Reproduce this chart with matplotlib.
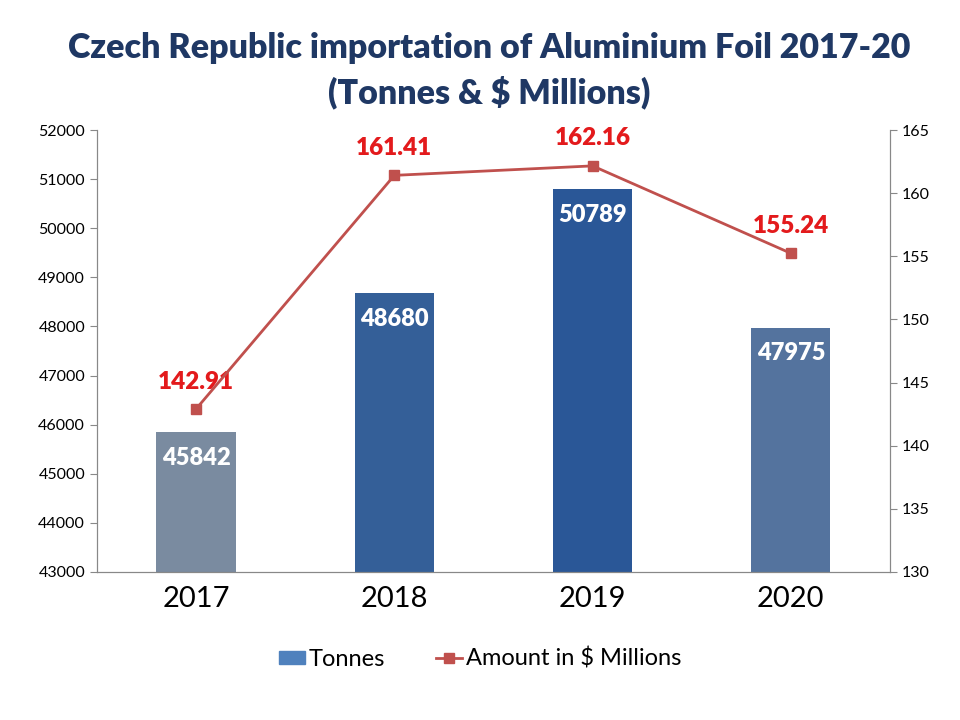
import matplotlib
matplotlib.use("Agg")
import matplotlib.pyplot as plt
from matplotlib.patches import Patch

years = ["2017", "2018", "2019", "2020"]
tonnes = [45842, 48680, 50789, 47975]
amount = [142.91, 161.41, 162.16, 155.24]
bar_colors = ["#7a8ba0", "#345f98", "#2a5797", "#54739e"]

plt.rcParams['font.family'] = ['Lato', 'DejaVu Sans']

fig = plt.figure(figsize=(9.6, 7.2), dpi=100)
ax = fig.add_axes([0.101, 0.2056, 0.826, 0.6138])
x = list(range(len(years)))
bars = ax.bar(x, [t - 43000 for t in tonnes], bottom=43000, width=0.4,
              color=bar_colors, label="Tonnes", zorder=2)
ax.set_ylim(43000, 52000)
ax.set_xlim(-0.5, 3.5)
ax.set_yticks(range(43000, 52001, 1000))
ax.set_xticks(x)
ax.set_xticklabels(years, fontsize=21)
ax.tick_params(axis='x', length=0, pad=10)
ax.tick_params(axis='y', labelsize=11.5, color="#888888", direction='out', length=5)
ax.spines["top"].set_visible(False)
for s in ["left", "bottom", "right"]:
    ax.spines[s].set_color("#888888")
for xi, t in zip(x, tonnes):
    ax.text(xi, t - 300, str(t), ha='center', va='top', color='white',
            fontsize=17, fontweight='heavy', zorder=3)

ax2 = ax.twinx()
ax2.set_ylim(130, 165)
ax2.set_yticks(range(130, 166, 5))
ax2.tick_params(axis='y', labelsize=11.5, color="#888888", direction='out', length=5)
ax2.spines["top"].set_visible(False)
for s in ["left", "bottom", "right"]:
    ax2.spines[s].set_color("#888888")
ln, = ax2.plot(x, amount, color="#c0504d", marker='s', markersize=7, linewidth=2,
               label="Amount in $ Millions", zorder=4)
for xi, a in zip(x, amount):
    ax2.text(xi, a + 1.3, f"{a:.2f}", ha='center', va='bottom', color='#e31a1c',
             fontsize=17.5, fontweight='heavy')

fig.text(0.51, 0.933, "Czech Republic importation of Aluminium Foil 2017-20",
         ha='center', va='center', fontsize=24.5, fontweight='heavy', color='#1f3864')
fig.text(0.51, 0.871, "(Tonnes & $ Millions)",
         ha='center', va='center', fontsize=24.5, fontweight='heavy', color='#1f3864')

fig.legend([Patch(color="#4f81bd"), ln], ["Tonnes", "Amount in $ Millions"], loc='center',
           bbox_to_anchor=(0.5, 0.085), ncol=2, frameon=False, fontsize=17,
           handlelength=1.1, handleheight=0.5, columnspacing=2.2, handletextpad=0.15)
fig.savefig("out.png", dpi=100)
